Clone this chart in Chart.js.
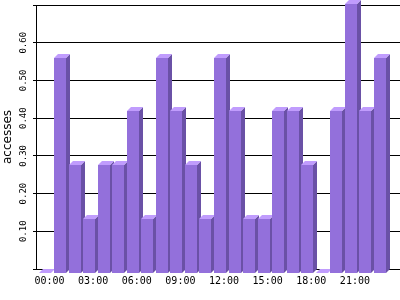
<!DOCTYPE html>
<html>
<head>
<meta charset="utf-8">
<script src="https://cdn.jsdelivr.net/npm/chart.js@4.4.1/dist/chart.umd.min.js"></script>
<style>
    html, body { margin: 0; padding: 0; background: #fff; }
    #wrap { width: 400px; height: 300px; }
</style>
</head>
<body>
<div id="wrap"><canvas id="hourChart"></canvas></div>
<script>
const hours = ['00:00', '01:00', '02:00', '03:00', '04:00', '05:00', '06:00', '07:00',
               '08:00', '09:00', '10:00', '11:00', '12:00', '13:00', '14:00', '15:00',
               '16:00', '17:00', '18:00', '19:00', '20:00', '21:00', '22:00', '23:00'];
const accesses = [0, 0.571, 0.286, 0.143, 0.286, 0.286, 0.429, 0.143,
                  0.571, 0.429, 0.286, 0.143, 0.571, 0.429, 0.143, 0.143,
                  0.429, 0.429, 0.286, 0, 0.429, 0.714, 0.429, 0.571];
const labelledHours = [0, 3, 6, 9, 12, 15, 18, 21];

const faceFront = '#9370db';
const faceSide = '#6a51a6';
const faceTop = '#c09cfd';

// draws each bar as a little box: front face pushed down-left, side + top faces behind it
const bars3d = {
    id: 'bars3d',
    afterDatasetsDraw(chart) {
        const ctx = chart.ctx;
        const meta = chart.getDatasetMeta(0);
        const d = 4;
        ctx.save();
        meta.data.forEach(bar => {
            const p = bar.getProps(['x', 'y', 'base', 'width'], true);
            const fx0 = Math.round(p.x - p.width / 2) - d;
            const fx1 = fx0 + Math.round(p.width);
            const fy0 = Math.round(p.y) + d;
            const fy1 = Math.round(p.base) + d;

            ctx.fillStyle = faceSide;
            ctx.beginPath();
            ctx.moveTo(fx1, fy0);
            ctx.lineTo(fx1 + d, fy0 - d);
            ctx.lineTo(fx1 + d, fy1 - d);
            ctx.lineTo(fx1, fy1);
            ctx.closePath();
            ctx.fill();

            ctx.fillStyle = faceTop;
            ctx.beginPath();
            ctx.moveTo(fx0, fy0);
            ctx.lineTo(fx0 + d, fy0 - d);
            ctx.lineTo(fx1 + d, fy0 - d);
            ctx.lineTo(fx1, fy0);
            ctx.closePath();
            ctx.fill();

            ctx.fillStyle = faceFront;
            ctx.fillRect(fx0, fy0, fx1 - fx0, fy1 - fy0);
        });
        ctx.restore();
    }
};

const ctx = document.getElementById('hourChart').getContext('2d');
const hourChart = new Chart(ctx, {
    type: 'bar',
    data: {
        datasets: [{
            label: 'accesses',
            data: accesses.map((v, i) => ({ x: i, y: v })),
            backgroundColor: 'rgba(0,0,0,0)',
            borderWidth: 0,
            barThickness: 12,
        }]
    },
    options: {
        responsive: true,
        maintainAspectRatio: false,
        animation: false,
        layout: { padding: { top: 5, right: 0, bottom: 0, left: 0 } },
        plugins: {
            legend: { display: false },
            tooltip: { enabled: false }
        },
        scales: {
            x: {
                type: 'linear',
                min: -0.928,
                max: 24.1,
                offset: false,
                afterBuildTicks: axis => {
                    axis.ticks = labelledHours.map(h => ({ value: h }));
                },
                afterFit: axis => { axis.height = 31; },
                grid: { display: false, drawTicks: false, offset: false },
                border: { display: false },
                ticks: {
                    autoSkip: false,
                    minRotation: 0,
                    maxRotation: 0,
                    padding: 6,
                    color: '#000',
                    font: { family: 'DejaVu Sans Mono', size: 10 },
                    callback: value => hours[value]
                }
            },
            y: {
                min: 0,
                max: 0.7,
                afterFit: axis => { axis.width = 36; },
                grid: { color: '#000', lineWidth: 1, tickLength: 3 },
                border: { color: '#000', width: 1 },
                ticks: {
                    stepSize: 0.1,
                    minRotation: 90,
                    maxRotation: 90,
                    crossAlign: 'center',
                    padding: -1,
                    color: '#000',
                    font: { family: 'DejaVu Sans Mono', size: 9 },
                    callback: value => (value > 0.05 && value < 0.65) ? value.toFixed(2) : ''
                },
                title: {
                    display: true,
                    text: 'accesses',
                    color: '#000',
                    font: { family: 'DejaVu Sans', size: 12 },
                    padding: { top: 1, bottom: 0 }
                }
            }
        }
    },
    plugins: [bars3d]
});
</script>
</body>
</html>
